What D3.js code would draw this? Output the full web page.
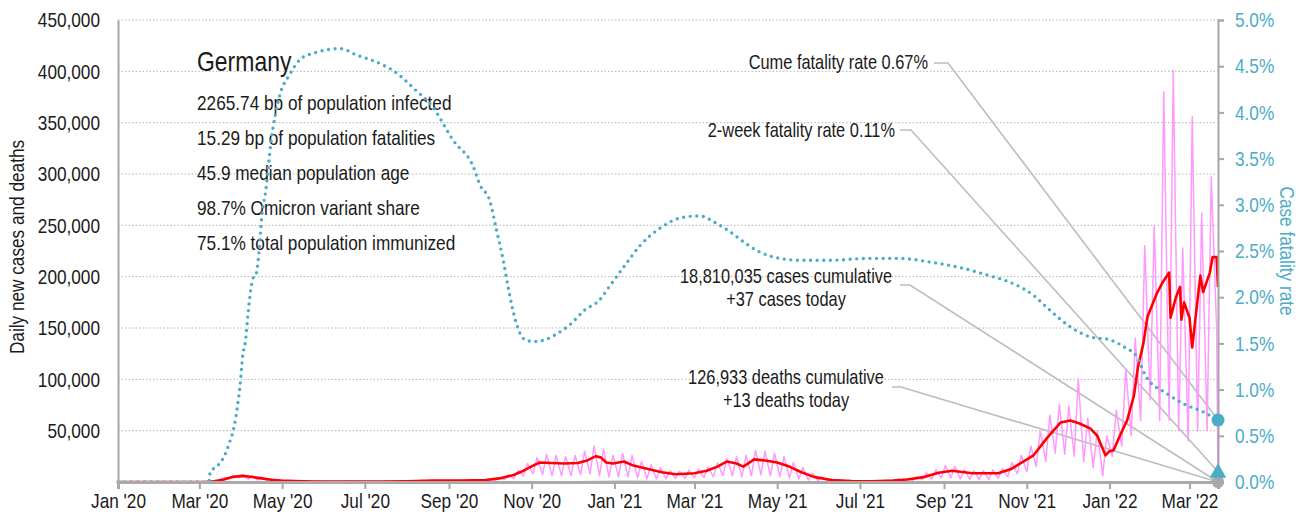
<!DOCTYPE html>
<html>
<head>
<meta charset="utf-8">
<script src="https://cdn.jsdelivr.net/npm/d3@7.9.0/dist/d3.min.js"></script>
<style>
  body { margin: 0; background: #fff; }
  svg { display: block; font-family: "Liberation Sans", Arial, sans-serif; }
</style>
</head>
<body>
<svg id="chart" width="1299" height="523"></svg>
<script>
// ---- data ----
const leftTicks  = [50000,100000,150000,200000,250000,300000,350000,400000,450000];
const rightTicks = [0,0.5,1,1.5,2,2.5,3,3.5,4,4.5,5];
const monthTicks = ["2020-01-01","2020-03-01","2020-05-01","2020-07-01","2020-09-01","2020-11-01",
                    "2021-01-01","2021-03-01","2021-05-01","2021-07-01","2021-09-01","2021-11-01",
                    "2022-01-01","2022-03-01"];

// 7-day average of new cases (red)
const avgDates = ["2020-01-01","2020-02-25","2020-03-05","2020-03-12","2020-03-19","2020-03-26","2020-04-02",
  "2020-04-09","2020-04-16","2020-04-23","2020-04-30","2020-05-10","2020-05-25","2020-06-15","2020-06-25",
  "2020-07-15","2020-08-01","2020-08-20","2020-09-10","2020-09-28","2020-10-08","2020-10-18","2020-10-26",
  "2020-11-02","2020-11-07","2020-11-15","2020-11-25","2020-12-05","2020-12-12","2020-12-18","2020-12-22",
  "2020-12-26","2020-12-31","2021-01-08","2021-01-15","2021-01-25","2021-02-05","2021-02-15","2021-03-01",
  "2021-03-10","2021-03-18","2021-03-25","2021-04-01","2021-04-06","2021-04-14","2021-04-22","2021-05-01",
  "2021-05-10","2021-05-18","2021-05-28","2021-06-10","2021-06-25","2021-07-10","2021-07-25","2021-08-05",
  "2021-08-18","2021-08-28","2021-09-07","2021-09-22","2021-10-11","2021-10-21","2021-11-06","2021-11-16",
  "2021-11-26","2021-12-03","2021-12-10","2021-12-18","2021-12-23","2021-12-29","2022-01-01","2022-01-04",
  "2022-01-09","2022-01-14","2022-01-19","2022-01-22","2022-01-26","2022-01-29","2022-02-05","2022-02-09",
  "2022-02-14","2022-02-15","2022-02-19","2022-02-22","2022-02-23","2022-02-25","2022-03-01","2022-03-03",
  "2022-03-05","2022-03-09","2022-03-11","2022-03-16","2022-03-18","2022-03-21","2022-03-22"];
const avgCases = [0,0,50,800,2500,5000,6000,
  4800,3500,2200,1400,900,550,450,550,
  450,700,1300,1500,2000,3500,6500,11000,
  16000,19000,18500,18000,18500,21000,25000,24000,
  19000,18000,20000,16000,13000,9500,7500,8500,
  11000,15000,20000,18000,15000,22000,21000,19000,
  15000,10000,5000,2000,900,800,1500,2500,
  5000,9000,11000,8500,8500,13000,26000,43000,
  58000,60000,57000,52000,45000,26000,30000,31000,
  46000,60000,84000,112000,135000,161000,184000,194000,
  204000,160000,180000,190000,158000,175000,160000,131000,
  155000,201000,185000,204000,219000,219000,190000];

// raw daily new cases (pink): weekly trough (Mon) and peak (Thu), weeks from Mon 6 Jan 2020
const pinkLow = [0,0,0,0, 0,0,0,0, 20,300,1800,3500,4000, 2800,2000,1400,900, 600,500,400,300,
  250,200,300,350,250, 200,250,300,400, 450,550,700,800,700, 800,900,1100,1300,
  1600,2500,3500,6000, 8000,7000,6000,6000,6000, 7000,8000,6000,5000,
  5000,5000,4000,3000, 3000,3000,3500,3500, 4000,4500,5000,6000,6000, 5000,6000,7000,6000,
  5000,4000,3000,2000,1500, 1000,600,400,300, 300,400,600,800, 1000,1500,2500,3000,4000,
  4000,3000,2500,2500, 2500,3500,5000,8000, 10000,15000,20000,28000,27000, 25000,20000,14000,6000,
  25000,35000,45000,60000,80000, 60000,60000,50000,40000, 50000,50000];
const pinkHigh = [0,0,0,0, 0,0,0,30, 150,1500,4500,6500,7000, 6200,4500,3000,1900, 1300,1000,800,700,
  600,550,900,800,550, 500,550,700,900, 1100,1400,1700,1800,1700, 1800,2000,2300,2700,
  4200,7000,11500,18000, 24000,27000,26000,25000,26000, 30000,35000,32000,26000,
  28000,26000,20000,17000, 14000,11000,10500,11500, 12500,14500,18500,23000,25000, 26000,31000,30000,28000,
  25000,19000,14000,8500,5000, 3000,1800,1200,900, 1000,1500,2000,3000, 3500,5000,9000,12000,16000,
  15000,12000,11000,11000, 12000,13000,19000,26000, 35000,50000,65000,76000,74000, 100000,62000,50000,45000,
  70000,110000,140000,230000,250000, 380000,401000,228000,356000, 262000,297000];
const pinkTailDates = ["2022-03-21","2022-03-22"];
const pinkTail = [150000,37];

// daily deaths (grey, hugs the baseline)
const deathDates = ["2020-01-01","2020-03-15","2020-04-10","2020-05-10","2020-06-15","2020-09-01","2020-10-20",
  "2020-11-20","2020-12-20","2021-01-10","2021-02-01","2021-03-01","2021-04-20","2021-06-01","2021-07-15",
  "2021-09-15","2021-11-20","2021-12-15","2022-01-15","2022-02-20","2022-03-22"];
const deaths = [0,10,250,80,10,5,30,250,700,900,600,250,250,100,20,60,250,400,200,220,13];

// case fatality rate, % (teal dotted, right axis)
const cfrDates = ["2020-01-01","2020-03-08","2020-03-09","2020-03-12","2020-03-16","2020-03-19","2020-03-23",
  "2020-03-26","2020-03-29","2020-03-31","2020-04-02","2020-04-04","2020-04-06","2020-04-08","2020-04-10",
  "2020-04-12","2020-04-14","2020-04-16","2020-04-19","2020-04-23","2020-04-29","2020-05-07","2020-05-14",
  "2020-05-24","2020-06-13","2020-06-25","2020-07-12","2020-07-25","2020-08-06","2020-08-20","2020-09-04",
  "2020-09-19","2020-09-24","2020-10-01","2020-10-06","2020-10-11","2020-10-15","2020-10-20","2020-10-27",
  "2020-11-03","2020-11-11","2020-11-18","2020-11-29","2020-12-10","2020-12-21","2020-12-29","2021-01-09",
  "2021-01-20","2021-02-04","2021-02-19","2021-03-05","2021-03-16","2021-03-27","2021-04-07","2021-04-18",
  "2021-05-03","2021-05-18","2021-06-09","2021-07-08","2021-07-30","2021-08-22","2021-09-13","2021-10-05",
  "2021-10-20","2021-11-06","2021-11-18","2021-12-03","2021-12-18","2022-01-01","2022-01-13","2022-01-21",
  "2022-01-28","2022-02-12","2022-02-27","2022-03-11","2022-03-22"];
const cfrValues = [0,0,0.11,0.15,0.20,0.27,0.42,
  0.56,0.81,1.05,1.37,1.53,1.84,2.09,2.22,
  2.26,2.50,2.87,3.16,3.70,4.17,4.42,4.57,
  4.64,4.69,4.62,4.53,4.42,4.26,4.06,3.70,
  3.41,3.21,3.05,2.73,2.40,2.08,1.75,1.54,
  1.52,1.54,1.59,1.70,1.86,1.97,2.13,2.35,
  2.56,2.75,2.86,2.88,2.81,2.71,2.59,2.49,
  2.42,2.40,2.40,2.42,2.42,2.38,2.32,2.23,
  2.16,2.02,1.86,1.68,1.57,1.54,1.45,1.36,
  1.14,0.96,0.83,0.76,0.67];

const country = "Germany";
const statLines = ["2265.74 bp of population infected","15.29 bp of population fatalities",
  "45.9 median population age","98.7% Omicron variant share","75.1% total population immunized"];
const cumeRate = 0.67, twoWeekRate = 0.11;
const casesCum = "18,810,035", casesToday = 37;
const deathsCum = "126,933", deathsToday = 13;

// ---- drawing ----
const svg = d3.select('#chart');
const parse = d3.utcParse('%Y-%m-%d');
const X0 = 118, X1 = 1218, Y0 = 482, Y1 = 20;
const teal = '#4bacc6', grey = '#a6a6a6', ink = '#1a1a1a';
const SQ = 0.82; // squeeze Liberation Sans into a narrow face

const x  = d3.scaleUtc().domain([parse('2020-01-01'), parse('2022-03-22')]).range([X0, X1]);
const yL = d3.scaleLinear().domain([0, 450000]).range([Y0, Y1]);
const yR = d3.scaleLinear().domain([0, 5]).range([Y0, Y1]);

function label(tx, ty, str, size, anchor = 'start', fill = ink, rot = 0) {
  return svg.append('text')
    .attr('transform', `translate(${tx},${ty}) rotate(${rot}) scale(${SQ},1)`)
    .attr('text-anchor', anchor).attr('font-size', size).attr('fill', fill).text(str);
}

// grid
svg.append('g').selectAll('line').data(leftTicks).enter().append('line')
  .attr('x1', X0).attr('x2', X1).attr('y1', d => yL(d)).attr('y2', d => yL(d))
  .attr('stroke', '#b4b4b4').attr('stroke-width', 1).attr('stroke-dasharray', '1.5 2');

// stats block
label(197, 71, country, 28);
statLines.forEach((t, i) => label(197, 110 + i * 35, t, 21));

// leader lines + annotations
const xEnd = x(parse('2022-03-22'));
const notes = [
  { lines: [`Cume fatality rate ${cumeRate}%`], anchor: 'end', tx: 928, ty: 69, lx: 934, ly: 63, knee: 948, ty2: yR(cumeRate) },
  { lines: [`2-week fatality rate ${twoWeekRate}%`], anchor: 'end', tx: 895, ty: 137, lx: 900, ly: 130, knee: 911, ty2: yR(twoWeekRate) },
  { lines: [`${casesCum} cases cumulative`, `+${casesToday} cases today`], anchor: 'middle', tx: 786, ty: 283, lx: 900, ly: 285, knee: 910, ty2: yL(casesToday) },
  { lines: [`${deathsCum} deaths cumulative`, `+${deathsToday} deaths today`], anchor: 'middle', tx: 786, ty: 384, lx: 892, ly: 387, knee: 901, ty2: yL(deathsToday) }
];
notes.forEach(n => {
  svg.append('path')
    .attr('d', `M${n.lx},${n.ly}H${n.knee}L${xEnd},${n.ty2}`)
    .attr('fill', 'none').attr('stroke', '#bdbdbd').attr('stroke-width', 1.6);
  n.lines.forEach((t, i) => label(n.tx, n.ty + i * 23, t, 20, n.anchor));
});

// series
const pinkPts = [{ d: parse('2020-01-01'), v: 0 }];
d3.utcMonday.range(parse('2020-01-06'), parse('2022-03-15')).forEach((w, i) => {
  pinkPts.push({ d: w, v: pinkLow[i] });
  pinkPts.push({ d: d3.utcDay.offset(w, 3), v: pinkHigh[i] });
});
pinkTailDates.forEach((d, i) => pinkPts.push({ d: parse(d), v: pinkTail[i] }));

const lineL = d3.line().x(p => x(p.d)).y(p => yL(p.v));
const lineR = d3.line().x(p => x(p.d)).y(p => yR(p.v)).curve(d3.curveMonotoneX);

svg.append('path').datum(pinkPts).attr('d', lineL)
  .attr('fill', 'none').attr('stroke', '#ff99ff').attr('stroke-width', 1.5).attr('stroke-linejoin', 'round');

svg.append('path').datum(deathDates.map((d, i) => ({ d: parse(d), v: deaths[i] }))).attr('d', lineL)
  .attr('fill', 'none').attr('stroke', '#b0b0b0').attr('stroke-width', 1.2);

svg.append('path').datum(avgDates.map((d, i) => ({ d: parse(d), v: avgCases[i] }))).attr('d', lineL)
  .attr('fill', 'none').attr('stroke', '#ff0000').attr('stroke-width', 2.6).attr('stroke-linejoin', 'round');

svg.append('path').datum(cfrDates.map((d, i) => ({ d: parse(d), v: cfrValues[i] }))).attr('d', lineR)
  .attr('fill', 'none').attr('stroke', teal).attr('stroke-width', 3.4)
  .attr('stroke-linecap', 'round').attr('stroke-dasharray', '0 6.6');

// axes
const xAxis = svg.append('g').attr('transform', `translate(0,${Y0})`)
  .call(d3.axisBottom(x).tickValues(monthTicks.map(parse)).tickFormat(d3.utcFormat("%b '%y")).tickSize(7).tickPadding(4));
const yAxisL = svg.append('g').attr('transform', `translate(${X0},0)`)
  .call(d3.axisLeft(yL).tickValues(leftTicks).tickFormat(d3.format(',')).tickSize(0).tickPadding(18));
const yAxisR = svg.append('g').attr('transform', `translate(${X1},0)`)
  .call(d3.axisRight(yR).tickValues(rightTicks).tickFormat(d => d.toFixed(1) + '%').tickSize(6).tickPadding(11));

[xAxis, yAxisL, yAxisR].forEach(g => {
  g.attr('font-family', null).attr('font-size', 21);
  g.select('.domain').attr('stroke', grey).attr('stroke-width', 2);
  g.selectAll('.tick line').attr('stroke', grey).attr('stroke-width', 2);
  g.selectAll('.tick text').attr('fill', ink).each(function () {
    const t = d3.select(this);
    t.attr('x', (+t.attr('x') || 0) / SQ).attr('transform', `scale(${SQ},1)`);
  });
});
xAxis.select('.domain').attr('stroke', '#aaaaaa').attr('stroke-width', 3);
yAxisR.selectAll('.tick text').attr('fill', teal);

label(24, 247, 'Daily new cases and deaths', 21, 'middle', ink, -90);
label(1280, 251, 'Case fatality rate', 21, 'middle', teal, 90);

// end markers
svg.append('circle').attr('cx', xEnd).attr('cy', yL(casesToday)).attr('r', 6).attr('fill', '#a9a9a9');
svg.append('circle').attr('cx', xEnd).attr('cy', yL(deathsToday)).attr('r', 6).attr('fill', '#a9a9a9');
svg.append('path').attr('d', d3.symbol(d3.symbolTriangle, 120)())
  .attr('transform', `translate(${xEnd},${yR(twoWeekRate) + 1})`).attr('fill', teal);
svg.append('circle').attr('cx', xEnd).attr('cy', yR(cumeRate)).attr('r', 6.5).attr('fill', teal);
</script>
</body>
</html>
